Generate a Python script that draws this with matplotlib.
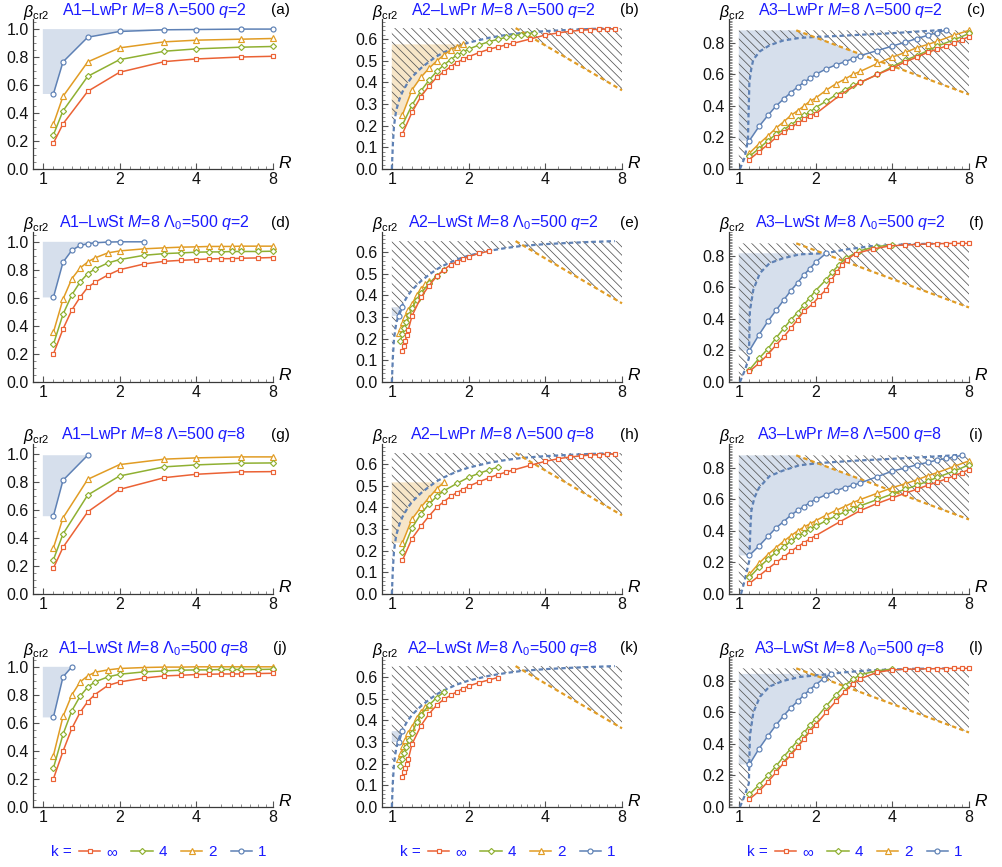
import numpy as np
import matplotlib
matplotlib.use("Agg")
import matplotlib.pyplot as plt
from matplotlib.lines import Line2D
from matplotlib.patches import Polygon
from matplotlib.ticker import MultipleLocator, NullFormatter

plt.rcParams['font.family'] = ['Liberation Sans', 'DejaVu Sans']
plt.rcParams['mathtext.fontset'] = 'custom'
plt.rcParams['mathtext.rm'] = 'Liberation Sans'
plt.rcParams['mathtext.it'] = 'Liberation Sans:italic'
plt.rcParams['mathtext.bf'] = 'Liberation Sans:bold'
plt.rcParams['hatch.linewidth'] = 0.55

# ---------------- data ----------------
# A1 panels
R_a = [1.1, 1.2, 1.5, 2, 3, 4, 6, 8]
a_inf = [0.184, 0.322, 0.554, 0.690, 0.766, 0.785, 0.799, 0.804]
a_k4 = [0.243, 0.415, 0.661, 0.780, 0.840, 0.857, 0.869, 0.874]
a_k2 = [0.320, 0.518, 0.764, 0.864, 0.907, 0.919, 0.926, 0.931]
a_k1 = [0.535, 0.764, 0.940, 0.981, 0.993, 0.995, 0.998, 0.998]

R_d = [1.1, 1.2, 1.3, 1.4, 1.5, 1.6, 1.8, 2, 2.5, 3, 3.5, 4, 4.5, 5, 5.5, 6, 7, 8]
d_inf = [0.199, 0.378, 0.514, 0.605, 0.675, 0.711, 0.763, 0.801, 0.842, 0.861, 0.868, 0.873, 0.878, 0.880, 0.880, 0.883, 0.885, 0.888]
d_k4 = [0.268, 0.483, 0.622, 0.713, 0.773, 0.806, 0.849, 0.873, 0.904, 0.916, 0.921, 0.926, 0.928, 0.928, 0.931, 0.931, 0.931, 0.933]
d_k2 = [0.354, 0.591, 0.737, 0.813, 0.856, 0.885, 0.921, 0.935, 0.950, 0.957, 0.962, 0.964, 0.967, 0.967, 0.967, 0.969, 0.969, 0.969]
R_d1 = [1.1, 1.2, 1.3, 1.4, 1.5, 1.6, 1.8, 2, 2.5]
d_k1 = [0.603, 0.854, 0.940, 0.974, 0.986, 0.993, 0.998, 1.0, 1.0]

g_inf = [0.184, 0.333, 0.586, 0.746, 0.830, 0.854, 0.871, 0.873]
g_k4 = [0.244, 0.428, 0.706, 0.842, 0.907, 0.921, 0.933, 0.935]
g_k2 = [0.328, 0.543, 0.818, 0.923, 0.962, 0.971, 0.978, 0.978]
R_g1 = [1.1, 1.2, 1.5]
g_k1 = [0.555, 0.811, 0.990]

j_inf = [0.200, 0.398, 0.561, 0.675, 0.752, 0.802, 0.867, 0.892, 0.920, 0.935, 0.940, 0.945, 0.947, 0.949, 0.949, 0.949, 0.952, 0.954]
j_k4 = [0.277, 0.518, 0.687, 0.790, 0.855, 0.892, 0.928, 0.947, 0.964, 0.971, 0.976, 0.978, 0.978, 0.981, 0.981, 0.981, 0.981, 0.983]
j_k2 = [0.366, 0.646, 0.800, 0.892, 0.935, 0.961, 0.978, 0.988, 0.995, 0.998, 0.998, 1.0, 1.0, 1.0, 1.0, 1.0, 1.0, 1.0]
R_j1 = [1.1, 1.2, 1.3]
j_k1 = [0.639, 0.928, 1.0]

# A2 panels
A2_DASH_R = [1.0, 1.01, 1.02, 1.04, 1.07, 1.1, 1.15, 1.2, 1.3, 1.4, 1.5, 1.6, 1.8, 2.0, 2.4, 2.8, 3.2, 3.6, 4.0, 5.0, 6.0, 7.5]
A2_DASH_B = [0.0, 0.12, 0.2, 0.27, 0.32, 0.355, 0.395, 0.425, 0.465, 0.495, 0.52, 0.538, 0.565, 0.583, 0.605, 0.618, 0.627, 0.632, 0.636, 0.642, 0.646, 0.65]
A2_OD_R = [3.06, 8.0]
A2_OD_B = [0.65, 0.363]
A2_TOP = 0.65

R_b = [1.1, 1.2, 1.3, 1.4, 1.5, 1.6, 1.7, 1.8, 1.9, 2.0, 2.2, 2.4, 2.6, 2.8, 3.0, 3.5, 4.0, 4.5, 5.0, 5.5, 6.0, 6.5, 7.0, 7.5]
b_inf = [0.162, 0.262, 0.334, 0.383, 0.423, 0.449, 0.472, 0.491, 0.506, 0.518, 0.537, 0.552, 0.563, 0.572, 0.580, 0.600, 0.618, 0.628, 0.635, 0.640, 0.643, 0.645, 0.646, 0.647]
R_b4 = [1.1, 1.2, 1.3, 1.4, 1.5, 1.6, 1.7, 1.8, 1.9, 2.0, 2.2, 2.4, 2.6, 2.8, 3.0, 3.2, 3.4, 3.6]
b_k4 = [0.203, 0.295, 0.36, 0.41, 0.45, 0.48, 0.505, 0.525, 0.54, 0.553, 0.572, 0.587, 0.598, 0.607, 0.614, 0.62, 0.625, 0.628]
R_b2 = [1.1, 1.2, 1.3, 1.4, 1.5, 1.6, 1.7, 1.8, 1.9]
b_k2 = [0.249, 0.365, 0.423, 0.465, 0.498, 0.526, 0.549, 0.565, 0.575]

R_e = [1.10, 1.115, 1.13, 1.145, 1.16, 1.2, 1.3, 1.4, 1.5, 1.6, 1.7, 1.8, 1.9, 2.0, 2.2, 2.4]
e_inf = [0.143, 0.165, 0.19, 0.215, 0.24, 0.305, 0.39, 0.445, 0.488, 0.518, 0.541, 0.555, 0.567, 0.578, 0.594, 0.603]
R_e4 = [1.08, 1.1, 1.12, 1.14, 1.17, 1.2, 1.25, 1.3, 1.4, 1.5, 1.6]
e_k4 = [0.19, 0.22, 0.25, 0.275, 0.31, 0.34, 0.38, 0.41, 0.455, 0.49, 0.515]
R_e2 = [1.07, 1.09, 1.11, 1.13, 1.16, 1.2, 1.25, 1.3, 1.35, 1.4]
e_k2 = [0.225, 0.25, 0.275, 0.30, 0.33, 0.36, 0.40, 0.43, 0.45, 0.465]
R_e1 = [1.07, 1.1]
e_k1 = [0.305, 0.345]

h_inf = [0.155, 0.256, 0.313, 0.36, 0.40, 0.426, 0.45, 0.468, 0.482, 0.497, 0.518, 0.535, 0.55, 0.562, 0.572, 0.594, 0.612, 0.624, 0.632, 0.637, 0.641, 0.643, 0.645, 0.646]
R_h4 = [1.1, 1.2, 1.3, 1.4, 1.5, 1.6, 1.8, 2.0, 2.2, 2.4, 2.6]
h_k4 = [0.195, 0.305, 0.37, 0.415, 0.45, 0.476, 0.51, 0.538, 0.557, 0.572, 0.585]
R_h2 = [1.1, 1.2, 1.3, 1.4, 1.5, 1.6]
h_k2 = [0.236, 0.346, 0.40, 0.445, 0.485, 0.515]

R_k = [1.10, 1.115, 1.13, 1.145, 1.16, 1.2, 1.3, 1.4, 1.5, 1.6, 1.7, 1.8, 1.9, 2.0, 2.2, 2.4, 2.6]
k_inf = [0.138, 0.16, 0.18, 0.20, 0.22, 0.29, 0.375, 0.43, 0.47, 0.497, 0.515, 0.532, 0.546, 0.558, 0.574, 0.586, 0.597]
k_k4 = [0.19, 0.22, 0.25, 0.275, 0.31, 0.34, 0.39, 0.425, 0.47, 0.505, 0.53]
k_k2 = [0.22, 0.25, 0.28, 0.31, 0.34, 0.37, 0.41, 0.44, 0.46, 0.47]
R_k1 = [1.07, 1.1]
k_k1 = [0.30, 0.35]

# A3 panels
A3_OD_R = [1.68, 8.0]
A3_OD_B = [0.88, 0.473]
A3_TOP = 0.88

c_dash_R = [1.01, 1.055, 1.085, 1.09, 1.095, 1.10, 1.12, 1.14, 1.21, 1.32, 1.49, 1.73, 2.0, 2.5, 3.0, 4.0, 5.0, 6.5]
c_dash_B = [0.0, 0.074, 0.18, 0.30, 0.42, 0.55, 0.64, 0.695, 0.747, 0.785, 0.815, 0.832, 0.838, 0.845, 0.852, 0.862, 0.872, 0.884]
R_c1 = [1.1, 1.2, 1.3, 1.4, 1.5, 1.6, 1.7, 1.8, 1.9, 2.0, 2.2, 2.4, 2.6, 2.8, 3.0, 3.5, 4.0, 4.5, 5.0, 5.5, 6.0, 6.5]
c_k1 = [0.18, 0.27, 0.34, 0.40, 0.445, 0.485, 0.52, 0.55, 0.575, 0.60, 0.635, 0.66, 0.68, 0.70, 0.72, 0.752, 0.78, 0.805, 0.828, 0.848, 0.866, 0.882]
R_c = [1.1, 1.2, 1.3, 1.4, 1.5, 1.6, 1.7, 1.8, 1.9, 2.0, 2.2, 2.4, 2.6, 2.8, 3.0, 3.5, 4.0, 4.5, 5.0, 5.5, 6.0, 7.0, 8.0]
c_k2 = [0.10, 0.16, 0.21, 0.26, 0.30, 0.34, 0.37, 0.40, 0.43, 0.45, 0.50, 0.54, 0.57, 0.60, 0.62, 0.67, 0.71, 0.74, 0.77, 0.79, 0.81, 0.85, 0.88]
c_k4 = [0.08, 0.13, 0.18, 0.22, 0.25, 0.28, 0.31, 0.34, 0.36, 0.39, 0.43, 0.47, 0.50, 0.53, 0.55, 0.60, 0.65, 0.69, 0.72, 0.75, 0.78, 0.82, 0.86]
R_ci = [1.1, 1.2, 1.3, 1.4, 1.5, 1.6, 1.7, 1.8, 1.9, 2.0, 2.5, 3.0, 3.5, 4.0, 4.5, 5.0, 5.5, 6.0, 6.5, 7.0, 7.5, 8.0]
c_inf = [0.06, 0.11, 0.155, 0.20, 0.235, 0.265, 0.29, 0.315, 0.335, 0.35, 0.47, 0.55, 0.60, 0.64, 0.68, 0.71, 0.74, 0.76, 0.78, 0.80, 0.82, 0.84]

f_dash_R = [1.01, 1.055, 1.095, 1.10, 1.105, 1.14, 1.21, 1.32, 1.49, 1.73, 2.0, 2.2, 2.6, 3.3, 4.8, 6.5]
f_dash_B = [0.0, 0.073, 0.15, 0.30, 0.45, 0.586, 0.691, 0.754, 0.785, 0.81, 0.815, 0.817, 0.84, 0.862, 0.875, 0.88]
R_f1 = [1.1, 1.2, 1.3, 1.4, 1.5, 1.6, 1.7, 1.8, 1.9, 2.0, 2.2]
f_k1 = [0.199, 0.30, 0.385, 0.455, 0.52, 0.58, 0.63, 0.68, 0.72, 0.76, 0.817]
R_f4 = [1.1, 1.2, 1.3, 1.4, 1.5, 1.6, 1.7, 1.8, 1.9, 2.0, 2.2, 2.33, 2.47, 2.63, 2.96, 3.44, 4.0]
f_k4 = [0.077, 0.15, 0.21, 0.28, 0.34, 0.395, 0.44, 0.49, 0.535, 0.58, 0.649, 0.70, 0.743, 0.785, 0.831, 0.859, 0.87]
R_f = [1.1, 1.2, 1.3, 1.4, 1.5, 1.6, 1.7, 1.8, 1.95, 2.07, 2.2, 2.3, 2.43, 2.53, 2.65, 2.87, 3.35, 3.9, 4.5, 5.0, 5.5, 6.0, 6.5, 7.0, 7.5, 8.0]
f_inf = [0.067, 0.119, 0.174, 0.235, 0.287, 0.341, 0.396, 0.45, 0.496, 0.544, 0.586, 0.645, 0.70, 0.743, 0.775, 0.815, 0.844, 0.863, 0.870, 0.873, 0.876, 0.878, 0.879, 0.880, 0.880, 0.880]

i_dash_R = [1.02, 1.055, 1.10, 1.105, 1.11, 1.12, 1.15, 1.2, 1.32, 1.49, 1.73, 2.07, 2.5, 3.0, 4.0, 5.0, 6.5, 7.5]
i_dash_B = [0.0, 0.088, 0.214, 0.32, 0.42, 0.528, 0.61, 0.674, 0.748, 0.783, 0.817, 0.831, 0.84, 0.848, 0.858, 0.866, 0.877, 0.884]
R_i1 = [1.1, 1.2, 1.3, 1.4, 1.5, 1.6, 1.7, 1.8, 1.9, 2.0, 2.2, 2.4, 2.6, 2.8, 3.0, 3.5, 4.0, 4.5, 5.0, 5.5, 6.0, 6.5, 7.0, 7.5]
i_k1 = [0.245, 0.305, 0.365, 0.42, 0.46, 0.50, 0.53, 0.555, 0.58, 0.60, 0.63, 0.655, 0.675, 0.69, 0.705, 0.745, 0.78, 0.80, 0.82, 0.835, 0.85, 0.86, 0.87, 0.88]
i_k2 = [0.125, 0.195, 0.25, 0.295, 0.335, 0.37, 0.40, 0.425, 0.445, 0.465, 0.50, 0.53, 0.555, 0.58, 0.60, 0.64, 0.675, 0.70, 0.725, 0.75, 0.77, 0.81, 0.845]
i_k4 = [0.105, 0.17, 0.22, 0.265, 0.30, 0.335, 0.365, 0.39, 0.41, 0.43, 0.465, 0.495, 0.52, 0.54, 0.56, 0.60, 0.635, 0.665, 0.69, 0.715, 0.74, 0.78, 0.82]
i_inf = [0.067, 0.115, 0.16, 0.20, 0.235, 0.27, 0.30, 0.325, 0.35, 0.37, 0.46, 0.53, 0.575, 0.61, 0.64, 0.665, 0.69, 0.71, 0.73, 0.75, 0.77, 0.79]

l_dash_R = [1.01, 1.055, 1.095, 1.10, 1.105, 1.14, 1.21, 1.32, 1.49, 1.73, 2.0, 2.3, 2.6, 3.3, 4.8, 6.5]
l_dash_B = [0.0, 0.073, 0.15, 0.30, 0.45, 0.60, 0.70, 0.765, 0.80, 0.825, 0.835, 0.845, 0.855, 0.868, 0.877, 0.88]
R_l1 = [1.1, 1.2, 1.3, 1.4, 1.5, 1.6, 1.7, 1.8, 1.9, 2.0, 2.15, 2.3]
l_k1 = [0.27, 0.37, 0.45, 0.52, 0.58, 0.63, 0.67, 0.71, 0.745, 0.775, 0.815, 0.845]
R_l4 = [1.1, 1.2, 1.3, 1.4, 1.5, 1.6, 1.7, 1.8, 1.9, 2.0, 2.2, 2.4, 2.6, 2.8, 3.0, 3.5, 4.0]
l_k4 = [0.08, 0.14, 0.20, 0.26, 0.32, 0.37, 0.42, 0.47, 0.52, 0.56, 0.64, 0.71, 0.77, 0.81, 0.84, 0.865, 0.875]
R_l = [1.1, 1.2, 1.3, 1.4, 1.5, 1.6, 1.7, 1.8, 1.9, 2.0, 2.2, 2.4, 2.6, 2.8, 3.0, 3.5, 4.0, 4.5, 5.0, 5.5, 6.0, 6.5, 7.0, 7.5, 8.0]
l_inf = [0.05, 0.10, 0.16, 0.22, 0.28, 0.33, 0.38, 0.43, 0.48, 0.52, 0.60, 0.67, 0.73, 0.78, 0.815, 0.855, 0.87, 0.874, 0.876, 0.877, 0.878, 0.879, 0.88, 0.88, 0.88]

LEG_LABELS = ['∞', '4', '2', '1']

# ---------------- styles ----------------
RED, GREEN, ORANGE, BLUE = '#EB6235', '#8FB032', '#E19C24', '#5E81B5'
TXT_BLUE = '#1A1AFF'
KSTYLE = {'1': (BLUE, 'o', 3.6), '2': (ORANGE, '^', 4.0),
          '4': (GREEN, 'D', 3.1), 'inf': (RED, 's', 3.3)}

W, H = 1002, 867
COL_X = [33, 382, 729]
ROW_Y0 = [169, 382, 594, 807]
AX_W, AX_H = 240, 150
XMIN = 0.915
YTOP = [1.07, 0.692, 0.952]
YMAJ = [np.arange(0, 1.01, 0.2), np.arange(0, 0.61, 0.1), np.arange(0, 0.81, 0.2)]
YMIN_STEP = [0.05, 0.02, 0.01]
XMINOR = [1.1, 1.2, 1.3, 1.4, 1.5, 1.6, 1.7, 1.8, 1.9, 2.2, 2.4, 2.6, 2.8, 3.0, 3.2,
          3.4, 3.6, 3.8, 4.5, 5, 5.5, 6, 6.5, 7, 7.5]

PANELS = [
    dict(r=0, c=0, title='A1–LwPr $M$=8 Λ=500 $q$=2', tag='(a)',
         series=[(R_a, a_k1, '1'), (R_a, a_k2, '2'), (R_a, a_k4, '4'), (R_a, a_inf, 'inf')],
         fill=(R_a, a_k1, BLUE, 'cap')),
    dict(r=0, c=1, title='A2–LwPr $M$=8 Λ=500 $q$=2', tag='(b)',
         series=[(R_b2, b_k2, '2'), (R_b4, b_k4, '4'), (R_b, b_inf, 'inf')],
         fill=(R_b2, b_k2, ORANGE, 'cap'), dash=(A2_DASH_R, A2_DASH_B),
         od=(A2_OD_R, A2_OD_B), top=A2_TOP),
    dict(r=0, c=2, title='A3–LwPr $M$=8 Λ=500 $q$=2', tag='(c)',
         series=[(R_c1, c_k1, '1'), (R_c, c_k2, '2'), (R_c, c_k4, '4'), (R_ci, c_inf, 'inf')],
         fill=(R_c1, c_k1, BLUE, 'orange'), dash=(c_dash_R, c_dash_B),
         od=(A3_OD_R, A3_OD_B), top=A3_TOP),
    dict(r=1, c=0, title='A1–LwSt $M$=8 Λ$_0$=500 $q$=2', tag='(d)',
         series=[(R_d1, d_k1, '1'), (R_d, d_k2, '2'), (R_d, d_k4, '4'), (R_d, d_inf, 'inf')],
         fill=(R_d1, d_k1, BLUE, 'cap')),
    dict(r=1, c=1, title='A2–LwSt $M$=8 Λ$_0$=500 $q$=2', tag='(e)',
         series=[(R_e1, e_k1, '1'), (R_e2, e_k2, '2'), (R_e4, e_k4, '4'), (R_e, e_inf, 'inf')],
         fill=(R_e1, e_k1, BLUE, 'cap'), dash=(A2_DASH_R, A2_DASH_B),
         od=(A2_OD_R, A2_OD_B), top=A2_TOP),
    dict(r=1, c=2, title='A3–LwSt $M$=8 Λ$_0$=500 $q$=2', tag='(f)',
         series=[(R_f1, f_k1, '1'), (R_f4, f_k4, '4'), (R_f, f_inf, 'inf')],
         fill=(R_f1, f_k1, BLUE, 'cap'), dash=(f_dash_R, f_dash_B),
         od=(A3_OD_R, A3_OD_B), top=A3_TOP),
    dict(r=2, c=0, title='A1–LwPr $M$=8 Λ=500 $q$=8', tag='(g)',
         series=[(R_g1, g_k1, '1'), (R_a, g_k2, '2'), (R_a, g_k4, '4'), (R_a, g_inf, 'inf')],
         fill=(R_g1, g_k1, BLUE, 'cap')),
    dict(r=2, c=1, title='A2–LwPr $M$=8 Λ=500 $q$=8', tag='(h)',
         series=[(R_h2, h_k2, '2'), (R_h4, h_k4, '4'), (R_b, h_inf, 'inf')],
         fill=(R_h2, h_k2, ORANGE, 'cap'), dash=(A2_DASH_R, A2_DASH_B),
         od=(A2_OD_R, A2_OD_B), top=A2_TOP),
    dict(r=2, c=2, title='A3–LwPr $M$=8 Λ=500 $q$=8', tag='(i)',
         series=[(R_i1, i_k1, '1'), (R_c, i_k2, '2'), (R_c, i_k4, '4'), (R_ci, i_inf, 'inf')],
         fill=(R_i1, i_k1, BLUE, 'orange'), dash=(i_dash_R, i_dash_B),
         od=(A3_OD_R, A3_OD_B), top=A3_TOP),
    dict(r=3, c=0, title='A1–LwSt $M$=8 Λ$_0$=500 $q$=8', tag='(j)',
         series=[(R_j1, j_k1, '1'), (R_d, j_k2, '2'), (R_d, j_k4, '4'), (R_d, j_inf, 'inf')],
         fill=(R_j1, j_k1, BLUE, 'cap')),
    dict(r=3, c=1, title='A2–LwSt $M$=8 Λ$_0$=500 $q$=8', tag='(k)',
         series=[(R_k1, k_k1, '1'), (R_e2, k_k2, '2'), (R_e4, k_k4, '4'), (R_k, k_inf, 'inf')],
         fill=(R_k1, k_k1, BLUE, 'cap'), dash=(A2_DASH_R, A2_DASH_B),
         od=(A2_OD_R, A2_OD_B), top=A2_TOP),
    dict(r=3, c=2, title='A3–LwSt $M$=8 Λ$_0$=500 $q$=8', tag='(l)',
         series=[(R_l1, l_k1, '1'), (R_l4, l_k4, '4'), (R_l, l_inf, 'inf')],
         fill=(R_l1, l_k1, BLUE, 'cap'), dash=(l_dash_R, l_dash_B),
         od=(A3_OD_R, A3_OD_B), top=A3_TOP),
]


def o_line(ox, oy, x):
    lx = np.log2(x)
    t = (lx - np.log2(ox[0])) / (np.log2(ox[1]) - np.log2(ox[0]))
    return oy[0] + t * (oy[1] - oy[0])


def crossing(xs, ys, ox, oy):
    xs = np.asarray(xs, float)
    ys = np.asarray(ys, float)
    d = ys - o_line(ox, oy, xs)
    for i in range(1, len(xs)):
        if xs[i] > ox[0] and d[i] > 0 and d[i - 1] <= 0:
            s = d[i - 1] / (d[i - 1] - d[i])
            lx = np.log2(xs[i - 1]) + s * (np.log2(xs[i]) - np.log2(xs[i - 1]))
            return i, 2 ** lx, ys[i - 1] + s * (ys[i] - ys[i - 1])
    return None


def ftxt(px, py, s, **kw):
    fig.text(px / W, 1 - py / H, s, **kw)


fig = plt.figure(figsize=(W / 100, H / 100), dpi=100)

for p in PANELS:
    r, c = p['r'], p['c']
    left, y0 = COL_X[c], ROW_Y0[r]
    ax = fig.add_axes([left / W, (H - y0) / H, AX_W / W, AX_H / H])
    ax.set_xscale('log')
    ax.set_xlim(XMIN, 8)
    ax.set_ylim(0, YTOP[c])
    ax.patch.set_alpha(0)
    for s in ['top', 'right']:
        ax.spines[s].set_visible(False)
    for s in ['left', 'bottom']:
        ax.spines[s].set_color('#3a3a3a')
        ax.spines[s].set_linewidth(0.9)
    ax.set_xticks([1, 2, 4, 8])
    ax.set_xticklabels(['1', '2', '4', '8'])
    ax.set_xticks(XMINOR, minor=True)
    ax.xaxis.set_minor_formatter(NullFormatter())
    ax.set_yticks(YMAJ[c])
    ax.set_yticklabels(['%.1f' % v for v in YMAJ[c]])
    ax.yaxis.set_minor_locator(MultipleLocator(YMIN_STEP[c]))
    ax.tick_params(which='major', direction='in', length=4, width=0.8,
                   color='#555555', labelsize=11.5, labelcolor='#111111')
    ax.tick_params(axis='x', which='major', pad=2.5)
    ax.tick_params(axis='y', which='major', pad=3)
    ax.tick_params(which='minor', direction='in', length=2.2, width=0.6, color='#777777')

    # shaded region
    fx, fy, fcol, mode = p['fill']
    if mode == 'orange':
        i, xc, yc = crossing(fx, fy, p['od'][0], p['od'][1])
        verts = [(1, fy[0])] + list(zip(fx[:i], fy[:i])) + \
                [(xc, yc), (p['od'][0][0], p['od'][1][0]), (1, p['od'][1][0])]
    else:
        verts = [(1, fy[0])] + list(zip(fx, fy)) + [(1, fy[-1])]
    ax.add_patch(Polygon(verts, closed=True, facecolor=fcol, alpha=0.25,
                         edgecolor='none', zorder=1))

    # hatched forbidden region + dashed boundaries
    if 'dash' in p:
        dx, dy = p['dash']
        ox, oy = p['od']
        top = p['top']
        i, xc, yc = crossing(dx, dy, ox, oy)
        hv = [(1, 0)] + list(zip(dx[:i], dy[:i])) + [(xc, yc), (ox[1], oy[1]), (8, top), (1, top)]
        ax.add_patch(Polygon(hv, closed=True, facecolor='none', edgecolor='#555555',
                             linewidth=0, hatch='\\\\\\\\', zorder=1.5))
        ax.plot(dx, dy, color=BLUE, lw=1.6, ls=(0, (2.0, 1.4)), zorder=2, clip_on=False)
        ax.plot(ox, oy, color=ORANGE, lw=1.6, ls=(0, (2.0, 1.4)), zorder=2, clip_on=False)

    for xs, ys, k in p['series']:
        col, mk, ms = KSTYLE[k]
        ax.plot(xs, ys, color=col, lw=1.1, marker=mk, ms=ms, mfc='white', mec=col,
                mew=0.85, zorder=4, clip_on=False)

    ftxt(left + 3, y0 - 157, r'$\beta_{\mathrm{cr2}}$', ha='center', va='center', fontsize=11.5)
    ftxt(left + 121, y0 - 159, p['title'], ha='center', va='center', fontsize=11.5, color=TXT_BLUE)
    ftxt(left + 247, y0 - 159, p['tag'], ha='center', va='center', fontsize=11)
    ftxt(left + 252, y0 - 6, 'R', ha='center', va='center', fontsize=12.5, style='italic')

# legends
order = ['inf', '4', '2', '1']
for c in range(3):
    left = COL_X[c]
    ftxt(left + 18, 852, 'k =', ha='left', va='center', color=TXT_BLUE, fontsize=11)
    handles = []
    for k in order:
        col, mk, ms = KSTYLE[k]
        handles.append(Line2D([], [], color=col, lw=1.1, marker=mk, ms=ms, mfc='white',
                              mec=col, mew=0.85))
    fig.legend(handles, LEG_LABELS, loc='center left',
               bbox_to_anchor=((left + 46) / W, 1 - 852 / H), ncol=4, frameon=False,
               handlelength=1.4, handletextpad=0.4, columnspacing=0.9, borderpad=0,
               borderaxespad=0, labelcolor=TXT_BLUE, fontsize=11)

fig.savefig('out.png', dpi=100)
